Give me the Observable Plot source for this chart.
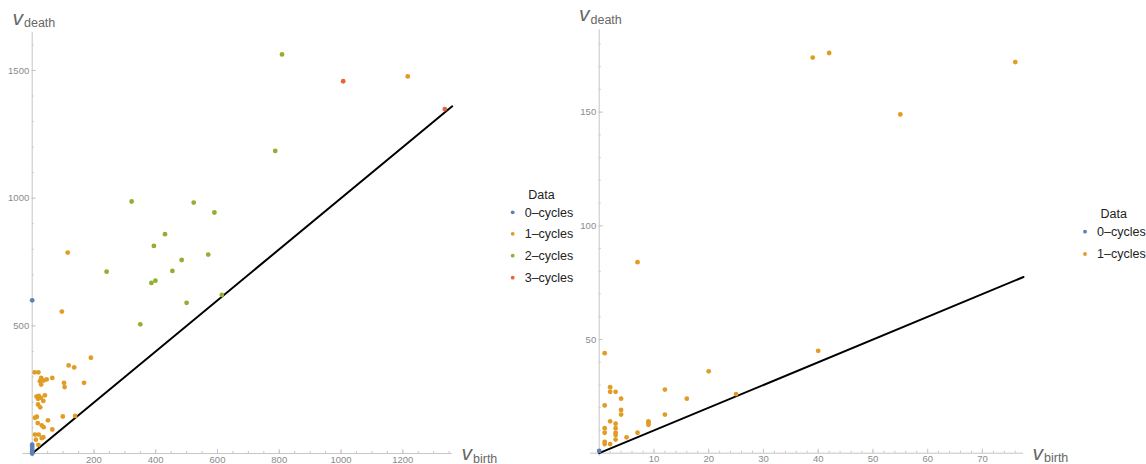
<!DOCTYPE html>
<html>
<head>
<meta charset="utf-8">
<script src="https://cdn.jsdelivr.net/npm/d3@7"></script>
<script src="https://cdn.jsdelivr.net/npm/@observablehq/plot@0.6"></script>
<style>
  html, body { margin: 0; padding: 0; background: #fff; }
  #root { position: relative; width: 1146px; height: 464px; overflow: hidden; font-family: "Liberation Sans", Arial, sans-serif; }
  .panel { position: absolute; top: 0; }
  #overlay { position: absolute; left: 0; top: 0; pointer-events: none; }
</style>
</head>
<body>
<div id="root">
  <div id="p1" class="panel" style="left:0px"></div>
  <div id="p2" class="panel" style="left:560px"></div>
</div>
<script>
// ---------- Data (birth, death) ----------
const seriesNames = ["0–cycles", "1–cycles", "2–cycles", "3–cycles"];
const seriesColors = ["#5E81B5", "#E19C24", "#8FB032", "#EB6235"];

// Left panel
const left0Cycles = [[0, 600], [0, 35], [0, 27], [0, 18], [0, 9], [0, 0]];
const left1Cycles = [
  [96, 556], [115, 787], [190, 375], [118, 345], [136, 337], [8, 318], [20, 318],
  [29, 296], [47, 290], [37, 286], [25, 283], [29, 270], [65, 296], [103, 277],
  [105, 260], [168, 277], [14, 223], [21, 226], [28, 218], [19, 214], [36, 206],
  [41, 228], [19, 192], [26, 181], [9, 140], [15, 144], [51, 130], [99, 145],
  [139, 147], [18, 119], [31, 110], [37, 103], [65, 94], [9, 74], [21, 74],
  [12, 54], [36, 64], [31, 60], [20, 34], [1216, 1477]
];
const left2Cycles = [
  [241, 712], [322, 987], [350, 506], [386, 668], [399, 677], [394, 813],
  [430, 859], [454, 715], [484, 758], [500, 590], [523, 983], [570, 779],
  [590, 944], [614, 621], [787, 1185], [809, 1563]
];
const left3Cycles = [[1007, 1458], [1336, 1349]];
const leftDiagonal = [0, 1360];
const leftXTicks = [200, 400, 600, 800, 1000, 1200];
const leftYTicks = [500, 1000, 1500];

// Right panel
const right0Cycles = [[0, 1]];
const right1Cycles = [
  [39, 174], [42, 176], [76, 172], [55, 149], [7, 84], [1, 44], [40, 45],
  [20, 36], [2, 29], [2, 27], [3, 27], [12, 28], [4, 24], [16, 24], [25, 26],
  [1, 21], [4, 19], [4, 17], [12, 17], [2, 14], [9, 14], [9, 13.3], [9, 12.5],
  [3, 13], [3, 11], [3, 9], [3, 8], [3, 6], [1, 11], [1, 9], [7, 9], [5, 7],
  [1, 5], [1, 4], [2, 4]
];
const rightDiagonal = [0, 77.5];
const rightXTicks = [10, 20, 30, 40, 50, 60, 70];
const rightYTicks = [50, 100, 150];

// ---------- helpers ----------
const axisColor = "#c6c6c6";
const tickLabelColor = "#8a8a8a";
const font = '"Liberation Sans", Arial, sans-serif';
const plainFormat = d => String(d);

function rows(series) {
  const out = [];
  series.forEach((pts, i) => pts.forEach(([b, d]) => out.push({birth: b, death: d, cls: seriesNames[i]})));
  return out;
}
function range(a, b, step) { return d3.range(a, b + step / 2, step); }

function panel({series, diag, xDomain, yDomain, width, margins, xTicks, yTicks, xMinor, yMinor, xExt, yExt}) {
  const data = rows(series);
  const names = seriesNames.slice(0, series.length);
  return Plot.plot({
    width, height: 464,
    marginLeft: margins[0], marginRight: margins[1], marginTop: margins[2], marginBottom: margins[3],
    x: {domain: xDomain},
    y: {domain: yDomain},
    color: {domain: names, range: seriesColors.slice(0, names.length)},
    style: {fontFamily: font, fontSize: "9.5px", background: "transparent", overflow: "visible"},
    marks: [
      Plot.ruleY([0], {x1: xExt, x2: xDomain[1], stroke: axisColor, strokeWidth: 1}),
      Plot.ruleX([0], {y1: yExt, y2: yDomain[1], stroke: axisColor, strokeWidth: 1}),
      Plot.axisX({ticks: xMinor, tickSize: 2, dy: -2, fill: "none", label: null, stroke: axisColor}),
      Plot.axisX({ticks: xTicks, tickSize: 4, dy: -4, fill: "none", label: null, stroke: axisColor}),
      Plot.axisY({ticks: yMinor, tickSize: 2, dx: 2, fill: "none", label: null, stroke: axisColor}),
      Plot.axisY({ticks: yTicks, tickSize: 4, dx: 4, fill: "none", label: null, stroke: axisColor}),
      Plot.axisX({ticks: xTicks, tickSize: 0, tickPadding: 2.5, tickFormat: plainFormat, label: null, fill: tickLabelColor, stroke: "none", fontSize: 9.5}),
      Plot.axisY({ticks: yTicks, tickSize: 0, tickPadding: 3, tickFormat: plainFormat, label: null, fill: tickLabelColor, stroke: "none", fontSize: 9.5}),
      Plot.line(diag, {x: d => d, y: d => d, stroke: "#000", strokeWidth: 2}),
      Plot.dot(data, {x: "birth", y: "death", fill: "cls", r: 2.4, stroke: "none"})
    ]
  });
}

document.getElementById("p1").append(panel({
  series: [left0Cycles, left1Cycles, left2Cycles, left3Cycles],
  diag: leftDiagonal,
  xDomain: [0, 1360], yDomain: [0, 1649],
  width: 470, margins: [31.7, 18.3, 32, 11],
  xTicks: leftXTicks, yTicks: leftYTicks,
  xMinor: range(50, 1350, 50), yMinor: range(100, 1600, 100),
  xExt: -30, yExt: -14
}));

document.getElementById("p2").append(panel({
  series: [right0Cycles, right1Cycles],
  diag: rightDiagonal,
  xDomain: [0, 77.5], yDomain: [0, 186.2],
  width: 480, margins: [38.7, 17, 29.3, 11.3],
  xTicks: rightXTicks, yTicks: rightYTicks,
  xMinor: range(2, 76, 2), yMinor: range(10, 180, 10),
  xExt: -1.6, yExt: -1.3
}));

// ---------- overlay: axis titles and legends ----------
const svg = d3.select("#root").append("svg")
  .attr("id", "overlay").attr("width", 1146).attr("height", 464)
  .style("font-family", font);

function axisTitle(x, y, sub, subDy) {
  const t = svg.append("text").attr("x", x).attr("y", y).attr("fill", "#676767");
  t.append("tspan").attr("font-style", "italic").attr("font-size", 21).text("v");
  t.append("tspan").attr("font-size", 12.5).attr("dy", subDy).attr("dx", 1).text(sub);
}
axisTitle(12.5, 25, "death", 1.5);
axisTitle(579, 21, "death", 2.5);
axisTitle(461.5, 460, "birth", 2.5);
axisTitle(1032.5, 459.5, "birth", 2.5);

function legend(x, yTitle, ys, n) {
  svg.append("text").attr("x", x + 15.5).attr("y", yTitle).attr("dy", "0.35em")
    .attr("font-size", 12.5).attr("fill", "#222").text("Data");
  for (let i = 0; i < n; i++) {
    svg.append("circle").attr("cx", x).attr("cy", ys[i]).attr("r", 1.9).attr("fill", seriesColors[i]);
    svg.append("text").attr("x", x + 12).attr("y", ys[i]).attr("dy", "0.35em")
      .attr("font-size", 12.5).attr("fill", "#222").text(seriesNames[i]);
  }
}
legend(512.7, 195, [212.3, 233.8, 255.7, 277.7], 4);
legend(1085, 214, [231.7, 254], 2);
</script>
</body>
</html>
